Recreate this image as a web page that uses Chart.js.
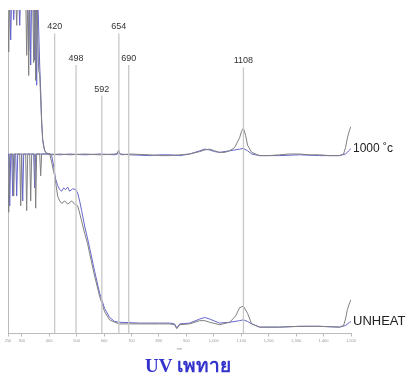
<!DOCTYPE html>
<html>
<head>
<meta charset="utf-8">
<script src="https://cdn.jsdelivr.net/npm/chart.js@4/dist/chart.umd.min.js"></script>
<style>
html,body{margin:0;padding:0;background:#fff;}
canvas{display:block;}
</style>
</head>
<body>
<canvas id="c" width="417" height="378"></canvas>
<script>
// ---- tick labels (nm) ----
const xTicks = [250, 300, 400, 500, 600, 700, 800, 900, 1000, 1100, 1200, 1300, 1400, 1500];

// ---- absorption markers ----
const markerNm  = [420, 498, 592, 654, 690, 1108];
const markerTop = [3.71, 3.32, 2.94, 3.71, 3.32, 3.29];

// ---- 1000 °C spectra ----
const hotGrayNm  = [249,252.6,256.3,278.1,281.7,285.4,314.5,318.1,321.8,325.4,329.1,340,343.6,347.3,350.9,354.5,361.8,365.5,369.1,372.7,376.4,380,387.3,394.6,409,438,475,530,585,640,649,653,657,664,694,766,803,840,876,912,949,967,985,1003,1021,1040,1058,1076,1094,1101,1108,1116,1123,1138,1167,1200,1240,1276,1312,1349,1385,1421,1458,1473,1480,1487,1495,1500];
const hotGrayAbs = [4.2,3.48,4.2,4.2,3.81,4.2,4.2,3.44,4.2,3.19,4.2,4.2,3.35,4.2,3.13,4.2,3.25,3.2,2.9,2.6,2.4,2.3,2.24,2.22,2.21,2.22,2.21,2.22,2.21,2.22,2.23,2.27,2.23,2.21,2.22,2.21,2.2,2.2,2.21,2.22,2.25,2.27,2.28,2.26,2.24,2.24,2.26,2.3,2.42,2.5,2.54,2.45,2.33,2.24,2.2,2.2,2.21,2.22,2.22,2.21,2.21,2.2,2.2,2.22,2.3,2.42,2.52,2.56];
const hotBlueNm  = [256.3,259.9,263.5,267.2,270.8,274.5,289,292.7,296.3,321.8,325.4,329.1,332.7,336.3,343.6,347.3,350.9,354.5,358.2,365.5,369.1,372.7,376.4,383.7,390.9,402,438,475,530,585,640,649,653,657,694,766,803,840,876,912,949,967,985,1003,1021,1058,1094,1108,1123,1138,1167,1240,1312,1385,1458,1480,1495,1500];
const hotBlueAbs = [4.2,3.63,4.2,4.2,3.88,4.2,4.2,3.81,4.2,4.2,3.5,4.2,3.32,4.2,4.2,3.38,4.2,3.07,4.2,3.32,3.0,2.63,2.4,2.26,2.23,2.22,2.21,2.22,2.21,2.22,2.21,2.22,2.26,2.22,2.21,2.2,2.21,2.21,2.2,2.22,2.26,2.28,2.27,2.25,2.24,2.26,2.28,2.29,2.26,2.22,2.2,2.2,2.21,2.2,2.2,2.22,2.27,2.29];

// ---- unheated spectra ----
const rawGrayNm  = [249,252.6,256.3,267.2,270.8,274.5,292.7,296.3,299.9,314.5,318.1,321.8,329.1,332.7,336.3,347.3,350.9,354.5,365.5,369.1,372.7,402,409.1,416.4,420,431,438.3,445.6,456.5,467.4,482,492.9,503.8,511.1,518.4,529.3,540.2,547.5,565.7,583.9,602.1,620.3,638.5,656.7,730,803,839,857,865,876,912,949,967,985,1021,1058,1080,1094,1108,1123,1138,1167,1240,1312,1385,1458,1473,1480,1487,1495,1500];
const rawGrayAbs = [2.22,1.5,2.22,2.22,1.7,2.22,2.22,1.58,2.22,2.22,1.52,2.22,2.22,1.64,2.22,2.22,1.55,2.22,2.22,1.95,2.22,2.22,2.12,2.0,1.95,1.7,1.64,1.61,1.64,1.6,1.64,1.6,1.58,1.49,1.39,1.24,1.11,0.99,0.71,0.46,0.27,0.17,0.14,0.12,0.12,0.12,0.12,0.11,0.06,0.11,0.12,0.16,0.16,0.14,0.11,0.14,0.22,0.32,0.34,0.25,0.12,0.08,0.08,0.09,0.09,0.08,0.1,0.18,0.3,0.38,0.42];
const rawBlueNm  = [249,252.6,256.3,260,263.5,267.2,270.8,278.1,281.7,285.4,299.9,303.6,307.2,310.9,343.6,347.3,350.9,402,409.1,416.4,423.7,431,438.3,445.6,452.9,460.1,467.4,474.7,485.6,496.5,503.8,511.1,518.4,529.3,540.2,547.5,565.7,583.9,602.1,620.3,638.5,656.7,730,803,839,857,865,876,912,949,967,985,1021,1058,1094,1108,1123,1138,1167,1240,1312,1385,1458,1480,1495,1500];
const rawBlueAbs = [2.22,2.22,1.58,2.22,2.22,1.7,2.22,2.22,1.7,2.22,2.22,1.64,2.22,2.22,2.22,1.8,2.22,2.22,2.2,2.07,1.91,1.83,1.78,1.76,1.8,1.78,1.81,1.76,1.79,1.78,1.74,1.64,1.52,1.33,1.17,1.06,0.77,0.5,0.31,0.2,0.15,0.14,0.13,0.13,0.13,0.12,0.07,0.12,0.13,0.18,0.2,0.18,0.13,0.14,0.16,0.17,0.15,0.12,0.08,0.08,0.09,0.09,0.08,0.1,0.14,0.15];

// ---- text ----
const seriesLabels = ['1000 ˚c', 'UNHEAT'];
const xTitle = 'nm';
const chartTitle = 'UV เพทาย';

const zip = (xs, ys) => xs.map((x, i) => ({x: x, y: ys[i]}));
const markerPts = [];
markerNm.forEach((nm, i) => {
  markerPts.push({x: nm, y: 0});
  markerPts.push({x: nm, y: markerTop[i]});
  markerPts.push({x: nm, y: null});
});

const GRAY = '#808080';
const BLUE = '#6666cc';

const textPlugin = {
  id: 'textPlugin',
  afterDatasetsDraw(chart) {
    const {ctx, chartArea, scales} = chart;
    const xs = scales.x, ys = scales.y;
    ctx.save();
    ctx.fillStyle = '#333';
    ctx.font = '9px "Liberation Sans", Arial, sans-serif';
    ctx.textAlign = 'center';
    ctx.textBaseline = 'bottom';
    markerNm.forEach((nm, i) => {
      ctx.fillText(String(nm), xs.getPixelForValue(nm), ys.getPixelForValue(markerTop[i]) - 2);
    });
    ctx.fillStyle = '#222';
    ctx.textAlign = 'left';
    ctx.textBaseline = 'middle';
    const ends = [hotBlueAbs[hotBlueAbs.length - 1], rawBlueAbs[rawBlueAbs.length - 1]];
    const sizes = [12, 13];
    seriesLabels.forEach((t, i) => {
      ctx.font = sizes[i] + 'px "Liberation Sans", Arial, sans-serif';
      ctx.fillText(t, chartArea.right + 2, ys.getPixelForValue(ends[i]));
    });
    ctx.restore();
  }
};

new Chart(document.getElementById('c'), {
  type: 'line',
  data: {
    datasets: [
      {data: markerPts, borderColor: '#c8c8c8', borderWidth: 1.3, spanGaps: false},
      {data: zip(hotGrayNm, hotGrayAbs), borderColor: GRAY, borderWidth: 1},
      {data: zip(hotBlueNm, hotBlueAbs), borderColor: BLUE, borderWidth: 1},
      {data: zip(rawGrayNm, rawGrayAbs), borderColor: GRAY, borderWidth: 1},
      {data: zip(rawBlueNm, rawBlueAbs), borderColor: BLUE, borderWidth: 1}
    ]
  },
  options: {
    responsive: false,
    animation: false,
    devicePixelRatio: 1,
    elements: {point: {radius: 0}, line: {tension: 0}},
    layout: {padding: {left: 8, right: 49, top: 10, bottom: 0}},
    plugins: {
      legend: {display: false},
      tooltip: {enabled: false},
      title: {
        display: true, position: 'bottom', text: chartTitle, color: '#3333cc',
        font: {family: '"Liberation Serif", "Times New Roman", serif', size: 19, weight: 'bold'},
        padding: {top: 3, bottom: 0}
      }
    },
    scales: {
      x: {
        type: 'linear', min: 250, max: 1500,
        afterBuildTicks: (s) => { s.ticks = xTicks.map(v => ({value: v})); },
        ticks: {autoSkip: false, maxRotation: 0, color: '#999', font: {size: 4}, padding: 2},
        grid: {drawOnChartArea: false, tickLength: 3, color: '#bbb'},
        border: {color: '#bbb'},
        title: {display: true, text: xTitle, color: '#999', font: {size: 4}, padding: 1}
      },
      y: {
        min: 0, max: 4,
        ticks: {display: false},
        grid: {display: false},
        border: {color: '#bbb'},
        afterFit: (s) => { s.width = 0; }
      },
      yR: {
        position: 'right', display: true,
        ticks: {display: false},
        grid: {display: false},
        border: {display: false},
        afterFit: (s) => { s.width = 17; }
      }
    }
  },
  plugins: [textPlugin]
});
</script>
</body>
</html>
